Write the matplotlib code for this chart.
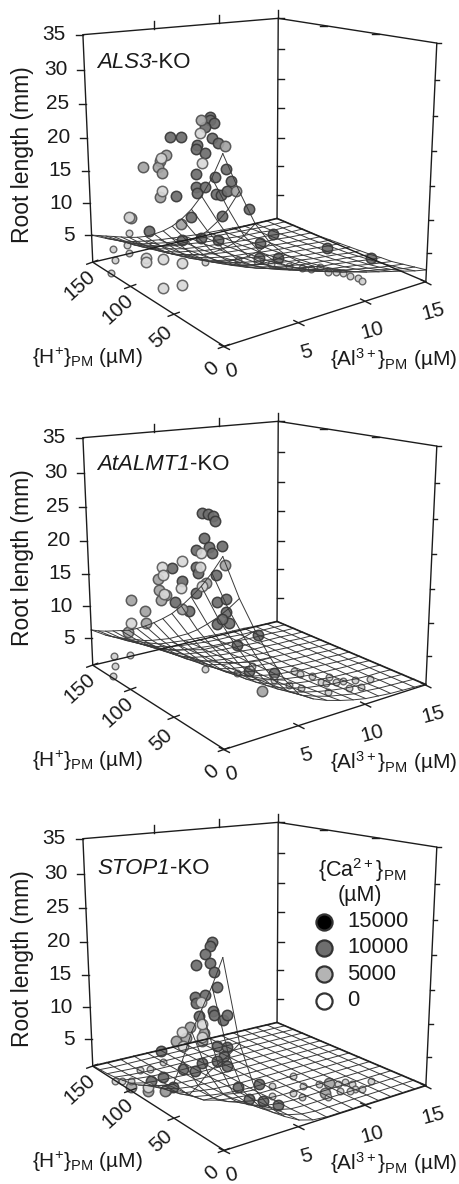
import numpy as np
import matplotlib
matplotlib.use('Agg')
import matplotlib.pyplot as plt

plt.rcParams['font.family'] = ['Liberation Sans', 'DejaVu Sans']
plt.rcParams['mathtext.fontset'] = 'custom'
plt.rcParams['mathtext.rm'] = 'Liberation Sans'
plt.rcParams['mathtext.it'] = 'Liberation Sans:italic'

# grids of the fitted surfaces
al_grid = [0, 1, 2, 3, 4, 5, 6, 7, 8, 9, 10, 11, 12, 13, 14, 15]
h_grid = [0, 10, 20, 30, 40, 50, 60, 70, 80, 90, 100, 110, 120, 130, 140, 150]

# root length on the grid, one row per {H+}
als3_surf = [
    [25, 20, 15.5, 12.5, 10.5, 9, 7.9, 7, 6.2, 5.5, 4.9, 4.4, 3.9, 3.4, 2.9, 2.5],
    [21.5, 17.2, 13.3, 10.8, 9, 7.7, 6.8, 6, 5.3, 4.7, 4.2, 3.8, 3.4, 2.9, 2.5, 2.2],
    [18.7, 15, 11.6, 9.4, 7.9, 6.7, 5.9, 5.2, 4.6, 4.1, 3.7, 3.3, 2.9, 2.5, 2.2, 1.9],
    [16.4, 13.1, 10.2, 8.2, 6.9, 5.9, 5.2, 4.6, 4.1, 3.6, 3.2, 2.9, 2.6, 2.2, 1.9, 1.6],
    [14.5, 11.6, 9, 7.3, 6.1, 5.2, 4.6, 4.1, 3.6, 3.2, 2.8, 2.6, 2.3, 2, 1.7, 1.5],
    [12.9, 10.3, 8, 6.5, 5.4, 4.6, 4.1, 3.6, 3.2, 2.8, 2.5, 2.3, 2, 1.8, 1.5, 1.3],
    [11.6, 9.3, 7.2, 5.8, 4.9, 4.2, 3.7, 3.2, 2.9, 2.6, 2.3, 2, 1.8, 1.6, 1.3, 1.2],
    [10.5, 8.4, 6.5, 5.3, 4.4, 3.8, 3.3, 2.9, 2.6, 2.3, 2.1, 1.8, 1.6, 1.4, 1.2, 1.1],
    [9.5, 7.6, 5.9, 4.8, 4, 3.4, 3, 2.7, 2.4, 2.1, 1.9, 1.7, 1.5, 1.3, 1.1, 1],
    [8.7, 7, 5.4, 4.4, 3.7, 3.1, 2.7, 2.4, 2.2, 1.9, 1.7, 1.5, 1.4, 1.2, 1, .9],
    [8, 6.4, 5, 4, 3.4, 2.9, 2.5, 2.2, 2, 1.8, 1.6, 1.4, 1.2, 1.1, .9, .8],
    [7.4, 5.9, 4.6, 3.7, 3.1, 2.7, 2.3, 2.1, 1.8, 1.6, 1.5, 1.3, 1.2, 1, .9, .8],
    [6.8, 5.4, 4.2, 3.4, 2.9, 2.4, 2.1, 1.9, 1.7, 1.5, 1.3, 1.2, 1.1, .9, .8, .8],
    [6.2, 5, 3.8, 3.1, 2.6, 2.2, 2, 1.7, 1.5, 1.4, 1.2, 1.1, 1, .8, .8, .8],
    [5.6, 4.5, 3.5, 2.8, 2.4, 2, 1.8, 1.6, 1.4, 1.2, 1.1, 1, .9, .8, .8, .8],
    [5, 4, 3.1, 2.5, 2.1, 1.8, 1.6, 1.4, 1.2, 1.1, 1, .9, .8, .8, .8, .8],
]
almt1_surf = [
    [25, 19.5, 15, 11, 7.5, 5, 3.8, 3, 2.4, 1.9, 1.5, 1.3, 1.1, 1, .9, .8],
    [22.5, 17.6, 13.5, 9.9, 6.8, 4.6, 3.5, 2.8, 2.2, 1.8, 1.4, 1.3, 1.1, 1, .9, .8],
    [20.3, 15.9, 12.2, 9, 6.2, 4.2, 3.2, 2.6, 2.1, 1.7, 1.4, 1.2, 1, 1, .9, .8],
    [18.4, 14.4, 11.1, 8.2, 5.7, 3.9, 3, 2.4, 1.9, 1.6, 1.3, 1.2, 1, .9, .9, .8],
    [16.6, 13, 10.1, 7.5, 5.2, 3.6, 2.8, 2.2, 1.8, 1.5, 1.3, 1.1, 1, .9, .9, .8],
    [15, 11.8, 9.1, 6.8, 4.8, 3.3, 2.6, 2.1, 1.7, 1.4, 1.2, 1.1, 1, .9, .9, .8],
    [13.7, 10.8, 8.4, 6.2, 4.4, 3.1, 2.4, 2, 1.6, 1.4, 1.2, 1.1, 1, .9, .8, .8],
    [12.5, 9.8, 7.7, 5.7, 4.1, 2.8, 2.3, 1.9, 1.6, 1.3, 1.1, 1, .9, .9, .8, .8],
    [11.4, 9, 7, 5.3, 3.7, 2.6, 2.1, 1.8, 1.5, 1.3, 1.1, 1, .9, .9, .8, .8],
    [10.4, 8.2, 6.4, 4.8, 3.5, 2.5, 2, 1.7, 1.4, 1.2, 1.1, 1, .9, .9, .8, .8],
    [9.5, 7.5, 5.9, 4.5, 3.2, 2.3, 1.9, 1.6, 1.4, 1.2, 1, 1, .9, .9, .8, .8],
    [8.8, 7, 5.5, 4.2, 3, 2.2, 1.8, 1.5, 1.3, 1.2, 1, 1, .9, .9, .8, .8],
    [8.1, 6.4, 5.1, 3.9, 2.8, 2, 1.7, 1.4, 1.2, 1.1, 1, .9, .9, .9, .8, .8],
    [7.4, 5.9, 4.7, 3.6, 2.6, 1.9, 1.6, 1.4, 1.2, 1.1, 1, .9, .9, .9, .8, .8],
    [6.8, 5.4, 4.3, 3.3, 2.4, 1.8, 1.5, 1.3, 1.1, 1, 1, .9, .9, .8, .8, .8],
    [6.3, 5, 4, 3.1, 2.3, 1.6, 1.4, 1.2, 1.1, 1, .9, .9, .9, .8, .8, .8],
]
stop1_surf = [
    [25, 14, 7.5, 4.5, 2.7, 1.6, 1, .8, .8, .8, .8, .8, .8, .8, .8, .8],
    [21, 11.8, 6.4, 3.9, 2.4, 1.5, 1, .8, .8, .8, .8, .8, .8, .8, .8, .8],
    [17.5, 9.9, 5.4, 3.4, 2.1, 1.4, .9, .8, .8, .8, .8, .8, .8, .8, .8, .8],
    [14, 8, 4.5, 2.8, 1.8, 1.2, .9, .8, .8, .8, .8, .8, .8, .8, .8, .8],
    [9.5, 5.5, 3.2, 2.1, 1.5, 1.1, .9, .8, .8, .8, .8, .8, .8, .8, .8, .8],
    [5.5, 3.4, 2.1, 1.5, 1.2, 1, .8, .8, .8, .8, .8, .8, .8, .8, .8, .8],
    [4.5, 2.8, 1.8, 1.4, 1.1, .9, .8, .8, .8, .8, .8, .8, .8, .8, .8, .8],
    [3.8, 2.4, 1.6, 1.3, 1, .9, .8, .8, .8, .8, .8, .8, .8, .8, .8, .8],
    [3, 2, 1.4, 1.1, 1, .9, .8, .8, .8, .8, .8, .8, .8, .8, .8, .8],
    [2.3, 1.6, 1.2, 1, .9, .8, .8, .8, .8, .8, .8, .8, .8, .8, .8, .8],
    [1.8, 1.3, 1.1, 1, .9, .8, .8, .8, .8, .8, .8, .8, .8, .8, .8, .8],
    [1.5, 1.2, 1, .9, .8, .8, .8, .8, .8, .8, .8, .8, .8, .8, .8, .8],
    [1.2, 1, .9, .8, .8, .8, .8, .8, .8, .8, .8, .8, .8, .8, .8, .8],
    [1, .9, .8, .8, .8, .8, .8, .8, .8, .8, .8, .8, .8, .8, .8, .8],
    [.9, .8, .8, .8, .8, .8, .8, .8, .8, .8, .8, .8, .8, .8, .8, .8],
    [.8, .8, .8, .8, .8, .8, .8, .8, .8, .8, .8, .8, .8, .8, .8, .8],
]

# measured roots: ({Al3+}, {H+}, length)
als3_dark_al = [.1,0,0,0,0,.1,.1,.1,.1,0,.1,0,.1,.3,.6,0,0,0,.4,.5,.7,.1,.2,1,1.7,.1,1.6,7.6,6.3,7.9,9,13.5,14.3,2.4,12.5]
als3_dark_h = [13,11,8,16,50,41,11,6,25,25,18,25,9,2,2,25,17,24,12,9,7,47,34,16,1,78,29,139,142,76,71,76,42,1,122]
als3_dark_len = [28.8,28.5,28.3,27.5,24.7,25.1,26.3,26,24.8,24.3,24.1,21.2,21.7,22.9,21.4,19.6,20,18.8,19.2,19.3,19.8,17.1,15.1,16,17.5,10.4,11.7,1.5,1.7,2.5,2.3,1.2,1.6,12.8,1]
als3_mid_al = [.1,.1,.1,0,0,0,.9,.2,0,.1,0]
als3_mid_h = [21,57,63,64,60,81,2,1,63,42,97]
als3_mid_len = [28,21.9,20.8,20.1,19.4,19.1,20,25.8,16.1,13.7,11.1]
als3_pale_al = [.1,.1,0,0,0,2.8,1.4,2.8,2,2,2]
als3_pale_h = [22,21,60,60,99,86,85,86,95,116,116]
als3_pale_len = [26.4,22.8,21.4,17.1,11.1,3.7,.8,.4,4.1,2.7,2.2]
als3_small_al = [1.3,1.7,1.7,1.1,0,3.4,6.3,7.3,7.6,8.2,5.8,8.6,9.8,8,8.9,9,9.3,9.6,9.7,0]
als3_small_h = [146,134,132,141,125,70,77,70,60,50,8,33,39,11,14,9,6,3,0,100]
als3_small_len = [2.5,3.7,2.5,1.1,.8,4.7,3,2.9,3,3.1,7.2,3.7,2.9,5.2,4.5,4.7,4.3,4.1,3.8,8.6]

almt1_dark_al = [0,0,.1,.1,.1,0,0,.1,.1,0,.1,.1,0,.7,.8,1,1,1.2,1.1,0,.3,.1,.1,2.2,11.2,3.5,8]
almt1_dark_h = [18,13,10,8,18,12,10,2,26,25,25,8,25,16,9,12,9,24,17,46,37,51,41,19,122,26,62]
almt1_dark_len = [29.4,29.5,29.4,28.8,26.4,25.6,25,26.1,24.5,22.5,21.7,22.3,19.2,18.3,19,17.1,15.9,14.7,15.8,16.8,16,20.9,19.8,11.8,2,7.1,1.6]
almt1_mid_al = [.2,.1,0,0,0,.1,.1,0,0,5,.1,.1]
almt1_mid_h = [1,17,64,63,56,63,41,80,79,34,103,98]
almt1_mid_len = [23.9,20.8,18.8,17.4,17.1,16,16.1,13.5,11.9,2.8,9,13.9]
almt1_pale_al = [.1,.1,.1,0,0,.1,0,.1,0]
almt1_pale_h = [40,61,60,20,21,21,40,60,97]
almt1_pale_len = [22.4,20.5,19.5,24.5,22.7,20.3,18.9,17,10.8]
almt1_small_al = [1,2,1.1,.1,4.1,3.8,9.4,9.3,9.8,9.6,10.7,10.5,10.9,11.7,12.7,7,7.3,7.6,8.6,10.4,11.2,7.6,9.7]
almt1_small_h = [140,137,140,125,80,42,60,52,47,36,41,32,30,28,25,49,38,30,18,19,17,80,32]
almt1_small_len = [2.4,2.2,.8,.8,3.1,5.5,1.3,1.6,1.3,1.4,1.2,1.2,1.2,1.1,1,2.1,2.1,2.1,1.9,1.3,1.2,1.6,1.4]

stop1_dark_al = [.1,.1,.1,0,.1,0,.1,0,.1,0,0,.2,.3,.5,.6,8.6,9,7.9,7,7,4.4,4.8,5.9,2.5,1.5,1,2,4.8,6.8,2.6,5.7,5.4,5]
stop1_dark_h = [11,13,18,12,26,8,7,26,18,25,23,12,13,8,5,134,128,115,110,99,111,103,112,104,102,75,84,44,62,1,28,64,148]
stop1_dark_len = [26.3,25.7,24.5,23.8,22.7,22.8,21,18.7,19.4,18,16.5,17.7,17.1,16.7,17.5,.8,.8,.8,.8,.8,.8,.8,.8,1,1.2,2.1,1.3,1.1,.8,5.6,1,.9,.8]
stop1_mid_al = [.04,6.27,7.07,.92,.3,.01,9.15,10.37,.34,8.29]
stop1_mid_h = [32.3,149.9,149.4,75.1,84.7,99.7,26.6,37.2,23.3,148.6]
stop1_mid_len = [14.4,1.7,1.8,2.1,1.7,1.2,.8,.8,14.1,.8]
stop1_pale_al = [6.74,.04,.17,.33,6.65,.3]
stop1_pale_h = [149.6,21.1,22.5,25.5,146.4,84.6]
stop1_pale_len = [2.9,18.4,15.4,13.4,.8,2.2]
stop1_small_al = [.03,.02,.38,2.08,2.68,3.98,7.29,9.31,8.82,9.82,10.76,11.28,11.43,11.06,11.39,12.75,7.58,7.63,6.28,8.91,10.08,10.64]
stop1_small_h = [120.6,111.5,106.2,125.3,123.1,128.3,55,59.2,43.9,39.9,33,32.6,28.2,21,18.6,25.3,38,30.1,41.8,20.8,23.6,20.8]
stop1_small_len = [.6,1.3,1.5,.8,.8,.8,.8,.8,.8,.8,.8,.8,.8,.8,.8,.8,.8,.8,.9,.8,.8,.8]

len_ticks = [5, 10, 15, 20, 25, 30, 35]
al_ticks = [0, 5, 10, 15]
h_ticks = [0, 50, 100, 150]
ca_legend = ['15000', '10000', '5000', '0']

# perspective of the box, from its corners on the page
z0 = 0.7
world = np.array([[0,0,z0],[15,0,z0],[0,150,z0],[15,150,z0],[0,150,35],[15,150,35],[15,0,35]],float)
screen = np.array([[224,345],[426,283],[93,264],[277,217],[83,34],[278,19],[437,43]],float)
rows = []
for (a, h, l), (x, y) in zip(world, screen):
    v = [a, h, l, 1]
    rows.append(v + [0,0,0,0] + [-x*t for t in v])
    rows.append([0,0,0,0] + v + [-y*t for t in v])
P = np.linalg.svd(np.array(rows))[2][-1].reshape(3, 4)

def project(al, h, l, dy):
    al, h, l = np.broadcast_arrays(np.asarray(al, float), np.asarray(h, float), np.asarray(l, float))
    w = P[2,0]*al + P[2,1]*h + P[2,2]*l + P[2,3]
    x = (P[0,0]*al + P[0,1]*h + P[0,2]*l + P[0,3]) / w
    y = (P[1,0]*al + P[1,1]*h + P[1,2]*l + P[1,3]) / w
    return x, y + dy

styles = [
    dict(s=56, c='#6e6e6e', edgecolors='#383838', linewidths=1.1),
    dict(s=56, c='#a4a4a4', edgecolors='#505050', linewidths=1.1),
    dict(s=56, c='#d8d8d8', edgecolors='#5c5c5c', linewidths=1.1),
    dict(s=23, c='#d0d0d0', edgecolors='#5c5c5c', linewidths=1.0),
]
line = '#1c1c1c'
ink = '#1a1a1a'
fs = 15

fig = plt.figure(figsize=(4.6, 11.84), dpi=100)
ax = fig.add_axes([0, 0, 1, 1])
ax.set_xlim(0, 460)
ax.set_ylim(1184, 0)
ax.axis('off')

def draw_panel(dy, surf, groups, gene, title_y):
    surf = np.array(surf)
    # box
    edges = [((0,0,z0),(0,150,z0)), ((0,0,z0),(15,0,z0)), ((0,150,z0),(15,150,z0)), ((15,150,z0),(15,0,z0)),
             ((0,150,z0),(0,150,35)), ((15,150,z0),(15,150,35)), ((15,0,z0),(15,0,35)),
             ((0,150,35),(15,150,35)), ((15,150,35),(15,0,35))]
    for p, q in edges:
        x, y = project([p[0], q[0]], [p[1], q[1]], [p[2], q[2]], dy)
        ax.plot(x, y, color=line, lw=1.0, zorder=4, solid_capstyle='round')
    # ticks
    def tick(px, py, a, b):
        ax.plot([px+a[0], px+b[0]], [py+a[1], py+b[1]], color=line, lw=1.0, zorder=4)
    for v in len_ticks:
        x, y = project(0, 150, v, dy)
        tick(x, y, (-7, 0), (0, 0))
        ax.text(x-17, y, str(v), ha='right', va='center', fontsize=fs, color=ink)
        x, y = project(15, 150, v, dy)
        tick(x, y, (0, 0), (6, 0))
        x, y = project(15, 0, v, dy)
        tick(x, y, (0, 0), (4, 0))
    for v in al_ticks:
        x, y = project(v, 0, z0, dy)
        tick(x, y, (-5, -2), (5, 3))
        ax.text(x+7, y+(25 if v == 0 else 30), str(v), ha='center', va='center', rotation=15, fontsize=fs, color=ink)
        if v > 0:
            x, y = project(v, 150, 35, dy)
            tick(x, y, (0, 0), (0, -8))
    for v in h_ticks:
        x, y = project(0, v, z0, dy)
        tick(x, y, (-6, 2), (5, -2))
        ax.text(x-13, y+23, str(v), ha='center', va='center', rotation=42, fontsize=fs, color=ink)
        if 0 < v < 150:
            x, y = project(15, v, 35, dy)
            tick(x, y, (-5, 0), (2, 0))
    # roots
    for (al, h, l), st in zip(groups, styles):
        x, y = project(al, h, l, dy)
        ax.scatter(x, y, alpha=0.92, zorder=2, **st)
    # surface wires
    for i, hv in enumerate(h_grid):
        x, y = project(al_grid, hv, surf[i], dy)
        ax.plot(x, y, color='#3a3a3a', lw=0.7, zorder=3)
    for j, av in enumerate(al_grid):
        x, y = project(av, h_grid, surf[:, j], dy)
        ax.plot(x, y, color='#3a3a3a', lw=0.7, zorder=3)
    # labels
    ax.text(23, 155+dy, 'Root length (mm)', rotation=90, ha='center', va='center', fontsize=16.5, color=ink)
    ax.text(87, 358+dy, r'{H$^{+}$}$_{\mathrm{PM}}$ (µM)', ha='center', va='center', fontsize=fs, color=ink)
    ax.text(394, 359+dy, r'{Al$^{3+}$}$_{\mathrm{PM}}$ (µM)', ha='center', va='center', fontsize=fs, color=ink)
    t = ax.text(97, title_y+dy, gene, ha='left', va='center', fontsize=16, style='italic', color=ink)
    end = t.get_window_extent(fig.canvas.get_renderer()).x1
    ax.text(end, title_y+dy, '-KO', ha='left', va='center', fontsize=16, color=ink)

draw_panel(0, als3_surf, [(als3_dark_al, als3_dark_h, als3_dark_len), (als3_mid_al, als3_mid_h, als3_mid_len),
                          (als3_pale_al, als3_pale_h, als3_pale_len), (als3_small_al, als3_small_h, als3_small_len)],
           'ALS3', 62)
draw_panel(403, almt1_surf, [(almt1_dark_al, almt1_dark_h, almt1_dark_len), (almt1_mid_al, almt1_mid_h, almt1_mid_len),
                             (almt1_pale_al, almt1_pale_h, almt1_pale_len), (almt1_small_al, almt1_small_h, almt1_small_len)],
           'AtALMT1', 62)
draw_panel(804, stop1_surf, [(stop1_dark_al, stop1_dark_h, stop1_dark_len), (stop1_mid_al, stop1_mid_h, stop1_mid_len),
                             (stop1_pale_al, stop1_pale_h, stop1_pale_len), (stop1_small_al, stop1_small_h, stop1_small_len)],
           'STOP1', 65)

# Ca legend
ax.text(362, 870, r'{Ca$^{2+}$}$_{\mathrm{PM}}$', ha='center', va='center', fontsize=15.5, color=ink)
ax.text(360, 896, '(µM)', ha='center', va='center', fontsize=15.5, color=ink)
legend_fill = ['#000000', '#6e6e6e', '#b4b4b4', '#ffffff']
for i, (lab, col) in enumerate(zip(ca_legend, legend_fill)):
    y = 921.5 + i*26.4
    ax.scatter([324], [y], s=135, c=col, edgecolors='#333333', linewidths=1.6, zorder=5)
    ax.text(347, y, lab, ha='left', va='center', fontsize=15.8, color=ink)

fig.savefig('out.png', dpi=100)
